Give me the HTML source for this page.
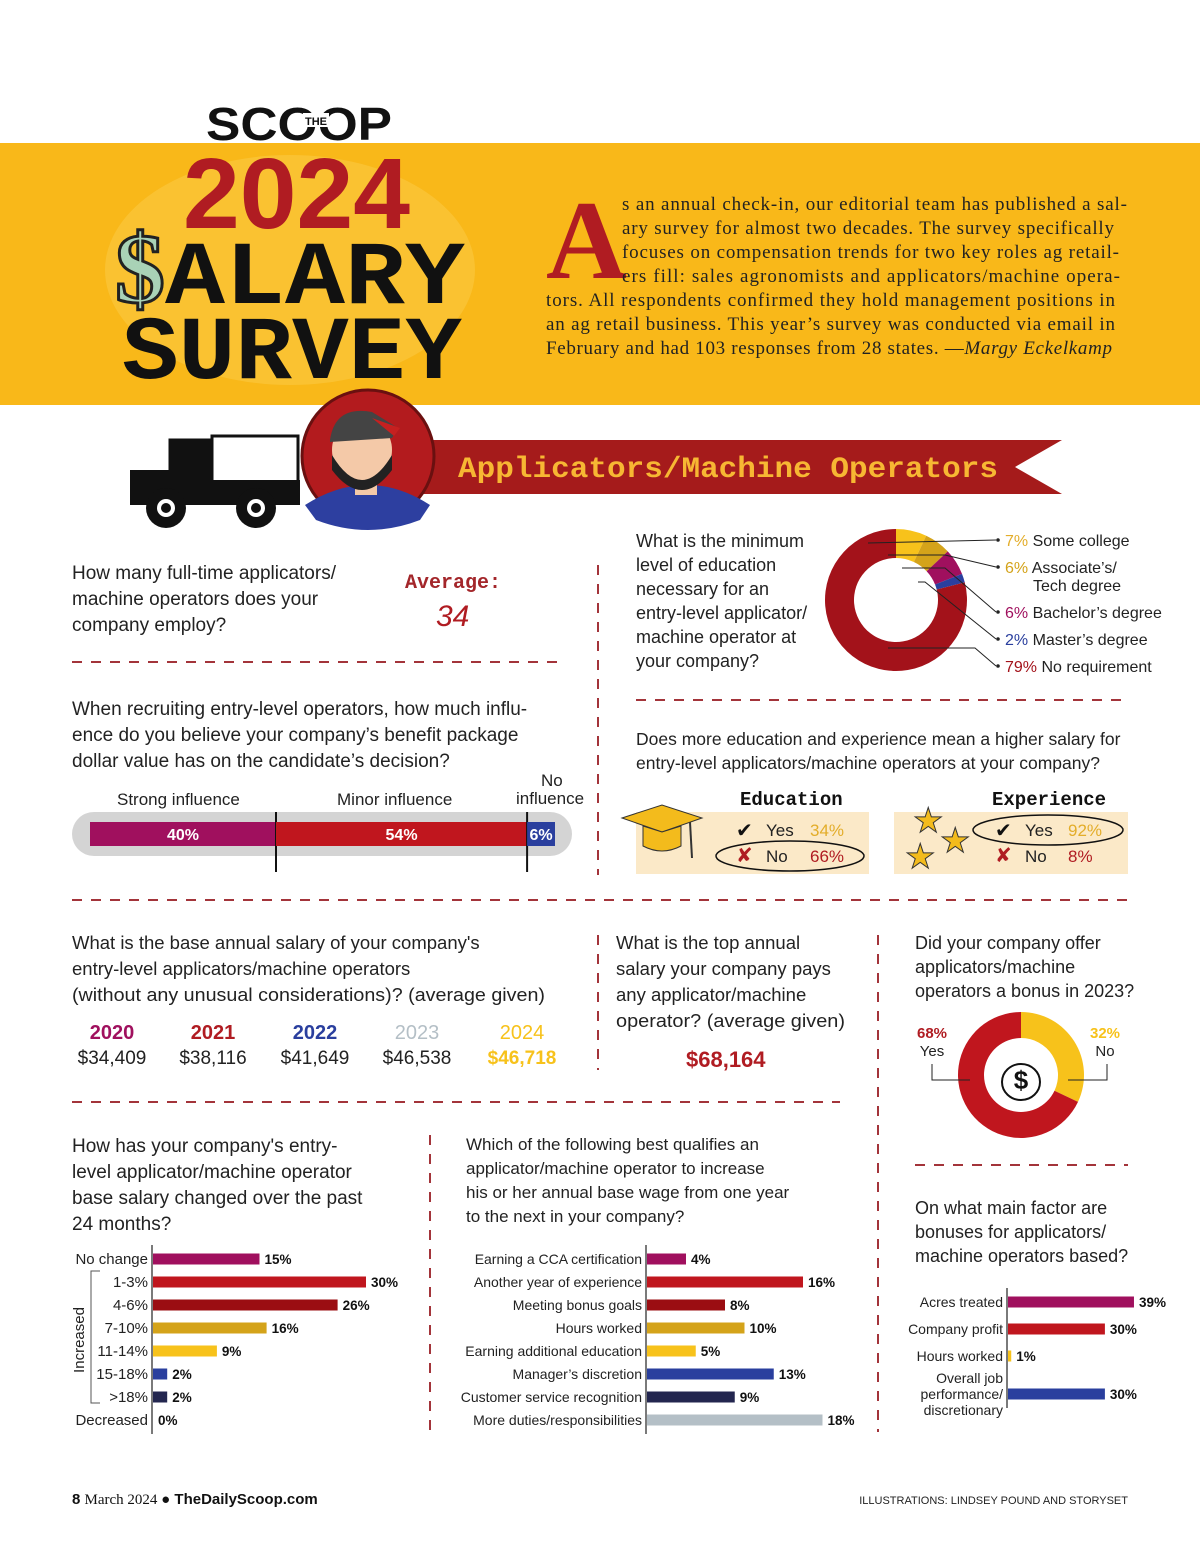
<!DOCTYPE html>
<html><head><meta charset="utf-8"><style>
body{margin:0;width:1200px;height:1558px;background:#fff;overflow:hidden;font-family:"Liberation Sans",sans-serif}
svg{position:absolute;left:0;top:0}
text{font-family:"Liberation Sans",sans-serif}
.q{fill:#222}
.s{fill:#222}
.serif{font-family:"Liberation Serif",serif}
.mono{font-family:"Liberation Mono",monospace;font-weight:bold}
</style></head><body>
<svg id="page" width="1200" height="1558" viewBox="0 0 1200 1558">
<rect x="0" y="143" width="1200" height="262" fill="#f9b819"/>
<ellipse cx="290" cy="270" rx="185" ry="115" fill="#fbcb4a" opacity="0.5"/>
<text x="206" y="140" font-size="46" font-weight="bold" fill="#111" textLength="186" lengthAdjust="spacingAndGlyphs">SCOOP</text>
<rect x="303" y="113" width="26" height="14" fill="#fff"/>
<text x="316" y="125" text-anchor="middle" font-size="11" font-weight="bold" fill="#111">THE</text>
<text x="183" y="228" font-size="100" font-weight="bold" fill="#b01c22" textLength="227" lengthAdjust="spacingAndGlyphs">2024</text>
<text x="140" y="302" text-anchor="middle" font-size="100" font-weight="bold" fill="#a9d2b6" stroke="#222" stroke-width="3" class="serif">$</text>
<text x="165" y="303" font-size="90" class="mono" fill="#111" textLength="300" lengthAdjust="spacingAndGlyphs">ALARY</text>
<text x="122" y="378" font-size="90" class="mono" fill="#111" textLength="340" lengthAdjust="spacingAndGlyphs">SURVEY</text>
<text x="546" y="278" font-size="112" font-weight="bold" fill="#b01c22" class="serif">A</text>
<g class="serif" font-size="19" fill="#222">
<text x="622" y="210" class="serif" textLength="505" lengthAdjust="spacing">s an annual check-in, our editorial team has published a sal-</text>
<text x="622" y="234" class="serif" textLength="492" lengthAdjust="spacing">ary survey for almost two decades. The survey specifically</text>
<text x="622" y="258" class="serif" textLength="497" lengthAdjust="spacing">focuses on compensation trends for two key roles ag retail-</text>
<text x="622" y="282" class="serif" textLength="498" lengthAdjust="spacing">ers fill: sales agronomists and applicators/machine opera-</text>
<text x="546" y="306" class="serif" textLength="569" lengthAdjust="spacing">tors. All respondents confirmed they hold management positions in</text>
<text x="546" y="330" class="serif" textLength="569" lengthAdjust="spacing">an ag retail business. This year’s survey was conducted via email in</text>
<text x="546" y="354" class="serif" textLength="566" lengthAdjust="spacing">February and had 103 responses from 28 states.  —<tspan font-style="italic">Margy Eckelkamp</tspan></text>
</g>
<!-- banner -->
<polygon points="420,440 1062,440 1015,467 1062,494 420,494" fill="#a51b1b"/>
<text x="458" y="477" font-size="30" class="mono" fill="#f7b733" textLength="540" lengthAdjust="spacingAndGlyphs">Applicators/Machine Operators</text>
<!-- truck -->
<g>
<rect x="212" y="436" width="86" height="46" fill="#fff" stroke="#111" stroke-width="3"/>
<rect x="170" y="440" width="40" height="40" fill="#fff" stroke="#111" stroke-width="3"/>
<path d="M130 470 L170 470 L170 440 L212 440 L212 480 L300 480 L300 505 L130 505 Z" fill="#111"/>
<circle cx="166" cy="508" r="20" fill="#111"/><circle cx="166" cy="508" r="9" fill="#fff"/><circle cx="166" cy="508" r="5" fill="#111"/>
<circle cx="256" cy="508" r="20" fill="#111"/><circle cx="256" cy="508" r="9" fill="#fff"/><circle cx="256" cy="508" r="5" fill="#111"/>
</g>
<g>
<circle cx="368" cy="456" r="66" fill="#b31b1e" stroke="#6a1010" stroke-width="3"/>
<path d="M305 505 Q368 465 430 505 L420 520 Q368 540 316 520 Z" fill="#2d3fa0"/>
<rect x="355" y="470" width="22" height="25" fill="#f4c9a8"/>
<ellipse cx="362" cy="450" rx="30" ry="32" fill="#f4c9a8"/>
<path d="M332 455 Q362 505 392 455 L392 470 Q362 510 332 470 Z" fill="#222"/>
<path d="M330 440 Q335 405 372 412 L398 428 L392 438 L330 442 Z" fill="#444"/>
<path d="M372 418 L400 428 L394 436 Z" fill="#c62020"/>
</g>
<!-- dashed separators -->
<g stroke="#a3343a" stroke-width="2" stroke-dasharray="10 9" fill="none">
<line x1="72" y1="662" x2="565" y2="662"/>
<line x1="598" y1="565" x2="598" y2="875"/>
<line x1="636" y1="700" x2="1128" y2="700"/>
<line x1="72" y1="900" x2="1130" y2="900"/>
<line x1="598" y1="935" x2="598" y2="1070"/>
<line x1="878" y1="935" x2="878" y2="1432"/>
<line x1="72" y1="1102" x2="840" y2="1102"/>
<line x1="430" y1="1135" x2="430" y2="1432"/>
<line x1="915" y1="1165" x2="1128" y2="1165"/>
</g>
<!-- Q1 -->
<g font-size="19">
<text class="q" x="72" y="579">How many full-time applicators/</text>
<text class="q" x="72" y="605">machine operators does your</text>
<text class="q" x="72" y="631">company employ?</text>
<text x="405" y="588" font-size="20" class="mono" fill="#a3262a">Average:</text>
<text x="436" y="626" font-size="30" fill="#b01c22" font-style="italic">34</text>
</g>
<!-- Q2 influence -->
<g font-size="19">
<text class="q" x="72" y="715">When recruiting entry-level operators, how much influ-</text>
<text class="q" x="72" y="741">ence do you believe your company’s benefit package</text>
<text class="q" x="72" y="767">dollar value has on the candidate’s decision?</text>
<text class="s" font-size="17" x="117" y="805">Strong influence</text>
<text class="s" font-size="17" x="337" y="805">Minor influence</text>
<text class="s" font-size="17" x="541" y="786">No</text>
<text class="s" font-size="17" x="516" y="804">influence</text>
<rect x="72" y="812" width="500" height="44" rx="22" fill="#d4d4d4"/>
</g>
<g id="infl"></g>
<!-- Q3 education donut -->
<g font-size="18">
<text class="q" x="636" y="547">What is the minimum</text>
<text class="q" x="636" y="571">level of education</text>
<text class="q" x="636" y="595">necessary for an</text>
<text class="q" x="636" y="619">entry-level applicator/</text>
<text class="q" x="636" y="643">machine operator at</text>
<text class="q" x="636" y="667">your company?</text>
</g>
<g id="edu"></g>
<g id="eduleg"></g>
<!-- Q4 edu/exp -->
<g>
<text class="q" x="636" y="745" font-size="17.5">Does more education and experience mean a higher salary for</text>
<text class="q" x="636" y="769" font-size="17.5">entry-level applicators/machine operators at your company?</text>
<rect x="636" y="812" width="233" height="62" fill="#fbe9c8"/>
<rect x="894" y="812" width="234" height="62" fill="#fbe9c8"/>
<text x="740" y="805" font-size="19" class="mono" fill="#111">Education</text>
<text x="992" y="805" font-size="19" class="mono" fill="#111">Experience</text>
<path d="M622 818 L662 805 L702 818 L662 832 Z" fill="#f3bb1c" stroke="#333"/>
<path d="M643 826 L643 846 Q662 856 681 846 L681 826 L662 832 Z" fill="#f3bb1c" stroke="#333"/>
<line x1="690" y1="822" x2="692" y2="858" stroke="#333" stroke-width="2"/>
<text x="736" y="837" font-size="20" fill="#111">✔</text><text x="766" y="836" class="s" font-size="17">Yes</text><text x="810" y="836" font-size="17" fill="#e3ad2a">34%</text>
<text x="736" y="862" font-size="20" fill="#b01c22">✘</text><text x="766" y="862" class="s" font-size="17">No</text><text x="810" y="862" font-size="17" fill="#b01c22">66%</text>
<ellipse cx="790" cy="856" rx="74" ry="15" fill="none" stroke="#111" stroke-width="1.5"/>
<text x="995" y="837" font-size="20" fill="#111">✔</text><text x="1025" y="836" class="s" font-size="17">Yes</text><text x="1068" y="836" font-size="17" fill="#e3ad2a">92%</text>
<text x="995" y="862" font-size="20" fill="#b01c22">✘</text><text x="1025" y="862" class="s" font-size="17">No</text><text x="1068" y="862" font-size="17" fill="#b01c22">8%</text>
<ellipse cx="1048" cy="830" rx="75" ry="15" fill="none" stroke="#111" stroke-width="1.5"/>
<text x="913" y="832" font-size="34" fill="#f3bb1c" stroke="#333">★</text>
<text x="940" y="852" font-size="34" fill="#f3bb1c" stroke="#333">★</text>
<text x="905" y="868" font-size="34" fill="#f3bb1c" stroke="#333">★</text>
</g>
<!-- Salary by year -->
<g font-size="18.5">
<text class="q" x="72" y="949">What is the base annual salary of your company's</text>
<text class="q" x="72" y="975">entry-level applicators/machine operators</text>
<text class="q" x="72" y="1001" textLength="473" lengthAdjust="spacingAndGlyphs">(without any unusual considerations)? (average given)</text>
</g>
<g id="years"></g>
<g font-size="18.5">
<text class="q" x="616" y="949">What is the top annual</text>
<text class="q" x="616" y="975">salary your company pays</text>
<text class="q" x="616" y="1001">any applicator/machine</text>
<text class="q" x="616" y="1027" textLength="229" lengthAdjust="spacingAndGlyphs">operator? (average given)</text>
<text x="686" y="1067" font-size="22" font-weight="bold" fill="#b01c22">$68,164</text>
</g>
<!-- bonus donut -->
<g font-size="18">
<text class="q" x="915" y="949">Did your company offer</text>
<text class="q" x="915" y="973">applicators/machine</text>
<text class="q" x="915" y="997">operators a bonus in 2023?</text>
</g>
<g id="bonus"></g>
<!-- bottom questions -->
<g font-size="19">
<text class="q" x="72" y="1152">How has your company's entry-</text>
<text class="q" x="72" y="1178">level applicator/machine operator</text>
<text class="q" x="72" y="1204">base salary changed over the past</text>
<text class="q" x="72" y="1230">24 months?</text>
<text x="84" y="1340" font-size="15" fill="#222" transform="rotate(-90 84 1340)" text-anchor="middle">Increased</text>
<path d="M100 1271 L91 1271 L91 1403 L100 1403" fill="none" stroke="#555"/>
</g>
<g font-size="17">
<text class="q" x="466" y="1150">Which of the following best qualifies an</text>
<text class="q" x="466" y="1174">applicator/machine operator to increase</text>
<text class="q" x="466" y="1198">his or her annual base wage from one year</text>
<text class="q" x="466" y="1222">to the next in your company?</text>
</g>
<g font-size="18">
<text class="q" x="915" y="1214">On what main factor are</text>
<text class="q" x="915" y="1238">bonuses for applicators/</text>
<text class="q" x="915" y="1262">machine operators based?</text>
</g>
<g id="c1"></g>
<g id="c2"></g>
<g id="c3"></g>
<!-- footer -->
<text x="72" y="1504" font-size="15" font-weight="bold" fill="#111">8 <tspan font-weight="normal" font-family="Liberation Serif">March 2024 ●</tspan> TheDailyScoop.com</text>
<text x="1128" y="1504" font-size="11" fill="#222" text-anchor="end">ILLUSTRATIONS: LINDSEY POUND AND STORYSET</text>
</svg>
<script>
const NS="http://www.w3.org/2000/svg";
// ---- data ----
const inflLabels=["Strong influence","Minor influence","No influence"];
const inflValues=[40,54,6];
const eduLabels=["Some college","Associate’s/|Tech degree","Bachelor’s degree","Master’s degree","No requirement"];
const eduValues=[7,6,6,2,79];
const yearLabels=["2020","2021","2022","2023","2024"];
const yearValues=[34409,38116,41649,46538,46718];
const bonusLabels=["No","Yes"];
const bonusValues=[32,68];
const c1Cats=["No change","1-3%","4-6%","7-10%","11-14%","15-18%",">18%","Decreased"];
const c1Vals=[15,30,26,16,9,2,2,0];
const c2Cats=["Earning a CCA certification","Another year of experience","Meeting bonus goals","Hours worked","Earning additional education","Manager’s discretion","Customer service recognition","More duties/responsibilities"];
const c2Vals=[4,16,8,10,5,13,9,18];
const c3Cats=["Acres treated","Company profit","Hours worked","Overall job|performance/|discretionary"];
const c3Vals=[39,30,1,30];
// ---- styles ----
const pal8=["#a0105e","#c0161e","#9b0d12","#d4a31a","#f7c21b","#2a3f9e","#23264f","#b4bfc6"];
function el(tag,attrs,parent,txt){const e=document.createElementNS(NS,tag);for(const k in attrs)e.setAttribute(k,attrs[k]);if(txt!=null)e.textContent=txt;parent.appendChild(e);return e;}
// influence
(function(){const g=document.getElementById('infl');const x0=90,w=465,cols=["#a0105e","#c0161e","#2a3f9e"];let x=x0;
inflValues.forEach((v,i)=>{const bw=v/100*w;const r=el('rect',{x:x,y:822,width:bw,height:24,fill:cols[i]},g);


el('text',{x:x+bw/2,y:840,'text-anchor':'middle','font-size':16,'font-weight':'bold',fill:'#fff'},g,v+'%');x+=bw;
if(i<2)el('line',{x1:x,y1:812,x2:x,y2:872,stroke:'#111','stroke-width':2},g);});})();
function arc(cx,cy,r0,r1,a0,a1){const p=(r,a)=>[cx+r*Math.sin(a),cy-r*Math.cos(a)];const lg=(a1-a0)>Math.PI?1:0;
const [x1,y1]=p(r1,a0),[x2,y2]=p(r1,a1),[x3,y3]=p(r0,a1),[x4,y4]=p(r0,a0);
return `M${x1} ${y1}A${r1} ${r1} 0 ${lg} 1 ${x2} ${y2}L${x3} ${y3}A${r0} ${r0} 0 ${lg} 0 ${x4} ${y4}Z`;}
(function(){const g=document.getElementById('edu');const cols=["#f7c21b","#d4a31a","#a0105e","#2a3f9e","#a3121a"];const tot=eduValues.reduce((a,b)=>a+b,0);let a=0;
eduValues.forEach((v,i)=>{const a1=a+v/tot*2*Math.PI;const p=el('path',{d:arc(896,600,42,71,a,a1),fill:cols[i]},g);

a=a1;});
const lg=document.getElementById('eduleg');const ys=[540,567,612,639,666];const pc=["#e3ad2a","#d4a31a","#a0105e","#2a3f9e","#a3121a"];
eduLabels.forEach((l,i)=>{const parts=l.split('|');const t=el('text',{x:1005,y:ys[i]+6,'font-size':16,fill:'#222'},lg);
el('tspan',{fill:pc[i]},t,eduValues[i]+'% ');el('tspan',{},t,parts[0]);
if(parts[1])el('text',{x:1033,y:ys[i]+24,'font-size':16,fill:'#222'},lg,parts[1]);
el('circle',{cx:998,cy:ys[i],r:1.8,fill:'#222'},lg);});
const lines=["M868 543 L996 540","M888 555 L945 555 L996 567","M902 568 L945 568 L996 612","M918 582 L925 582 L996 639","M888 648 L975 648 L996 666"];
lines.forEach(d=>el('path',{d:d,fill:'none',stroke:'#222','stroke-width':1},lg));})();
(function(){const g=document.getElementById('years');const cols=["#a0105e","#b01c22","#2a3f9e","#b4bfc6","#f7c21b"];const xs=[112,213,315,417,522];
yearLabels.forEach((y,i)=>{el('text',{x:xs[i],y:1039,'text-anchor':'middle','font-size':20,'font-weight':i<3?'bold':'normal',fill:cols[i]},g,y);
el('text',{x:xs[i],y:1064,'text-anchor':'middle','font-size':19,fill:i==4?'#f7c21b':'#222','font-weight':i==4?'bold':'normal'},g,'$'+yearValues[i].toLocaleString('en-US'));});})();
(function(){const g=document.getElementById('bonus');const cols=["#f7c21b","#c0161e"];const tot=bonusValues.reduce((a,b)=>a+b,0);let a=0;
bonusValues.forEach((v,i)=>{const a1=a+v/tot*2*Math.PI;const p=el('path',{d:arc(1021,1075,37,63,a,a1),fill:cols[i]},g);

a=a1;});
el('text',{x:1021,y:1089,'text-anchor':'middle','font-size':26,'font-weight':'bold',fill:'#111'},g,'$');
el('ellipse',{cx:1021,cy:1082,rx:19,ry:18,fill:'none',stroke:'#111','stroke-width':2},g);
el('text',{x:932,y:1038,'text-anchor':'middle','font-size':15,'font-weight':'bold',fill:'#b01c22'},g,bonusValues[1]+'%');
el('text',{x:932,y:1056,'text-anchor':'middle','font-size':15,fill:'#222'},g,bonusLabels[1]);
el('text',{x:1105,y:1038,'text-anchor':'middle','font-size':15,'font-weight':'bold',fill:'#f7c21b'},g,bonusValues[0]+'%');
el('text',{x:1105,y:1056,'text-anchor':'middle','font-size':15,fill:'#222'},g,bonusLabels[0]);
el('path',{d:'M932 1064 L932 1080 L970 1080',fill:'none',stroke:'#222'},g);
el('path',{d:'M1107 1064 L1107 1080 L1068 1080',fill:'none',stroke:'#222'},g);})();
function bars(id,cats,vals,axisX,scale,y0,step,fs,cols,ys){const g=document.getElementById(id);
const yy=i=>ys?ys[i]:y0+i*step;
el('line',{x1:axisX,y1:yy(0)-14,x2:axisX,y2:yy(cats.length-1)+14,stroke:'#222','stroke-width':1.2},g);
cats.forEach((c,i)=>{const y=yy(i);const w=vals[i]*scale;
const r=el('rect',{x:axisX+1,y:y-5.5,width:w,height:11,fill:cols[i]},g);


el('text',{x:axisX+w+6,y:y+5,'font-size':13.5,'font-weight':'bold',fill:'#111'},g,vals[i]+'%');
const parts=c.split('|');parts.forEach((p,k)=>el('text',{x:axisX-4,y:y+5+(k-(parts.length-1)/2)*16,'text-anchor':'end','font-size':fs,fill:'#222'},g,p));});}
bars('c1',c1Cats,c1Vals,152,7.1,1259,23,15,["#a0105e","#c0161e","#9b0d12","#d4a31a","#f7c21b","#2a3f9e","#23264f","#000"]);
bars('c2',c2Cats,c2Vals,646,9.75,1259,23,14,pal8);
bars('c3',c3Cats,c3Vals,1007,3.23,0,0,14,["#a0105e","#c0161e","#f7c21b","#2a3f9e"],[1302,1329,1356,1394]);
</script>
</body></html>
